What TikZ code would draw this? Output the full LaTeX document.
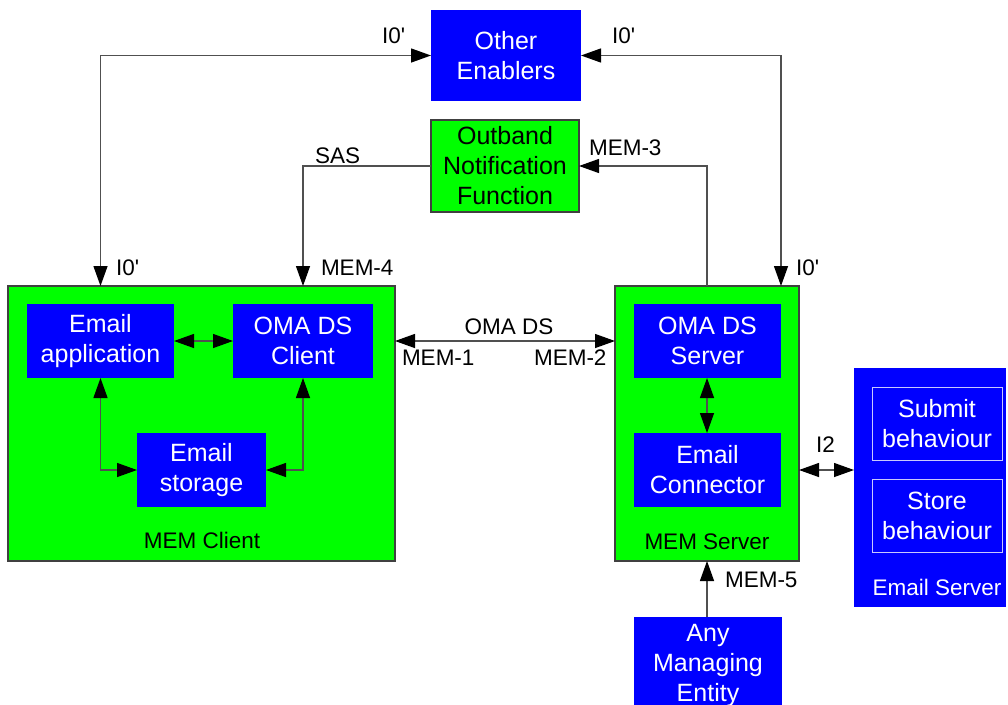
\documentclass[tikz,border=0pt]{standalone}
\usepackage{fontspec}
\setmainfont{Liberation Sans}
\usetikzlibrary{arrows.meta}
\definecolor{boxblue}{RGB}{0,0,255}
\definecolor{boxgreen}{RGB}{0,255,0}
\definecolor{linegray}{RGB}{80,80,80}
\definecolor{edgegray}{RGB}{64,64,64}
\definecolor{subedge}{RGB}{200,200,255}
\tikzset{
  every node/.style={inner sep=0pt, outer sep=0pt},
  boxtext/.style={font=\fontsize{25}{30}\selectfont, align=center},
  lbl/.style={font=\fontsize{22.5}{27}\selectfont, text=black},
  bluebox/.style={rectangle, fill=boxblue, text=white, boxtext},
  greenbox/.style={rectangle, fill=boxgreen, draw=edgegray, line width=1.3pt, boxtext},
  container/.style={rectangle, fill=boxgreen, draw=edgegray, line width=1.3pt},
  subbox/.style={rectangle, fill=boxblue, draw=subedge, line width=1pt, text=white, boxtext},
  tip/.tip={Triangle[length=20pt,width=14pt,color=black]},
  conn/.style={draw=linegray, line width=1.3pt},
}
\begin{document}
\begin{tikzpicture}[x=1pt,y=-1pt]
\useasboundingbox (0,0) rectangle (1008,704);
% boxes
\node[bluebox, minimum width=150pt, minimum height=91pt] (oe) at (506,55.5) {Other\\Enablers};
\node[greenbox, minimum width=148pt, minimum height=92pt] (onf) at (505,166) {Outband\\Notification\\Function};
\node[container, minimum width=387pt, minimum height=275pt] (mc) at (201.5,423.5) {};
\node[bluebox, minimum width=147pt, minimum height=74pt] (ea) at (100.5,341) {Email\\application};
\node[bluebox, minimum width=140pt, minimum height=74pt] (omac) at (303,341) {OMA DS\\Client};
\node[bluebox, minimum width=129pt, minimum height=74pt] (es) at (201.5,470) {Email\\storage};
\node[container, minimum width=184pt, minimum height=275pt] (ms) at (707,423.5) {};
\node[bluebox, minimum width=147pt, minimum height=74pt] (omas) at (707.5,341) {OMA DS\\Server};
\node[bluebox, minimum width=147pt, minimum height=74pt] (ec) at (707.5,470) {Email\\Connector};
\node[rectangle, fill=boxblue, minimum width=152pt, minimum height=239pt] (esrv) at (930,487.5) {};
\node[subbox, minimum width=130pt, minimum height=73pt] (sub) at (937,423.5) {Submit\\behaviour};
\node[subbox, minimum width=130pt, minimum height=73pt] (sto) at (937,515.5) {Store\\behaviour};
\node[bluebox, minimum width=148pt, minimum height=97pt] (ame) at (708,665.5) {Any\\Managing\\Entity};
% container labels
\node[lbl, anchor=base] (mcl) at (202,548) {MEM Client};
\node[lbl, anchor=base] (msl) at (707,549) {MEM Server};
\node[lbl, anchor=base, text=white] (esl) at (937,595) {Email Server};
% connectors
\draw[conn, tip-tip] (oe.west) -| (ea.center |- mc.north);
\draw[conn, -tip] (onf.west) -| (omac.center |- mc.north);
\draw[conn, tip-tip] (oe.east) -| (omas.east |- ms.north);
\draw[conn, -tip] (ms.north) |- (onf.east);
\draw[conn, tip-tip] (mc.east |- omac.center) -- (ms.west |- omac.center);
\draw[conn, tip-tip] (ea.east) -- (omac.west);
\draw[conn, tip-tip] (ea.south) |- (es.west);
\draw[conn, tip-tip] (omac.south) |- (es.east);
\draw[conn, tip-tip] (omas.south -| ms.north) -- (ec.north -| ms.north);
\draw[conn, tip-tip] (ms.east |- ec.center) -- (esrv.west |- ec.center);
\draw[conn, -tip] (ms.south |- ame.north) -- (ms.south);
% connector labels
\node[lbl, anchor=base west] (l1) at (382,43) {I0\textquotesingle};
\node[lbl, anchor=base west] (l2) at (116,275) {I0\textquotesingle};
\node[lbl, anchor=base west] (l3) at (315,163) {SAS};
\node[lbl, anchor=base west] (l4) at (321,275) {MEM-4};
\node[lbl, anchor=base west] (l5) at (612,43) {I0\textquotesingle};
\node[lbl, anchor=base west] (l6) at (796,275) {I0\textquotesingle};
\node[lbl, anchor=base west] (l7) at (589,155) {MEM-3};
\node[lbl, anchor=base] (l8) at (509,334) {OMA DS};
\node[lbl, anchor=base west] (l9) at (402,365) {MEM-1};
\node[lbl, anchor=base west] (l10) at (534,365) {MEM-2};
\node[lbl, anchor=base west] (l11) at (816,452) {I2};
\node[lbl, anchor=base west] (l12) at (725,587) {MEM-5};
\end{tikzpicture}
\end{document}
